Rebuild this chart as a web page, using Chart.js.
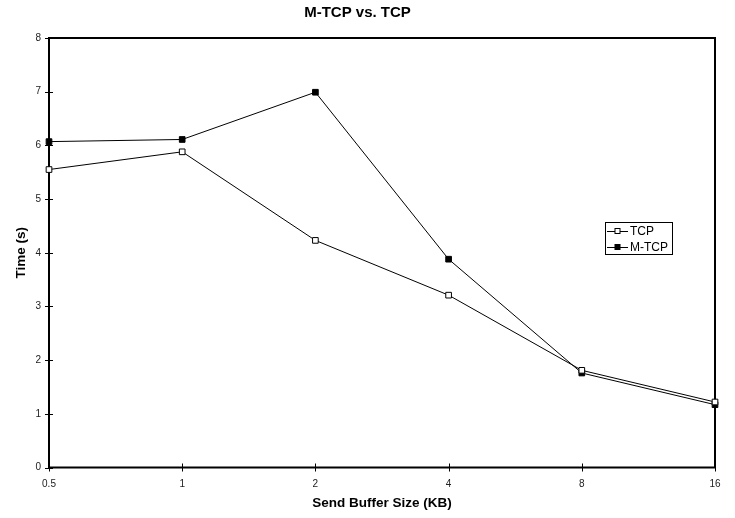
<!DOCTYPE html>
<html>
<head>
<meta charset="utf-8">
<script src="https://cdn.jsdelivr.net/npm/chart.js@4"></script>
<style>
html, body { margin: 0; padding: 0; background: #fff; }
canvas { display: block; }
</style>
</head>
<body>
<canvas id="chart" width="735" height="518"></canvas>
<script>
// Datos
const bufferSizes = ['0.5', '1', '2', '4', '8', '16'];
const tcpTimes = [5.55, 5.88, 4.23, 3.21, 1.81, 1.22];
const mtcpTimes = [6.07, 6.11, 6.99, 3.88, 1.76, 1.17];
const yMin = 0;
const yMax = 8;

const FONT = 'Arial, "Liberation Sans", sans-serif';

// Marco del área del gráfico y marcas de los ejes
const framePlugin = {
    id: 'frame',
    beforeDatasetsDraw(chart) {
        const { ctx, chartArea: a, scales } = chart;
        ctx.save();
        ctx.strokeStyle = '#000';
        ctx.lineWidth = 2;
        ctx.strokeRect(a.left, a.top, a.right - a.left, a.bottom - a.top);
        ctx.lineWidth = 1;
        ctx.beginPath();
        bufferSizes.forEach((_, i) => {
            const px = Math.round(scales.x.getPixelForValue(i)) + 0.5;
            ctx.moveTo(px, a.bottom - 4);
            ctx.lineTo(px, a.bottom + 4);
        });
        scales.y.ticks.forEach(t => {
            const py = Math.round(scales.y.getPixelForValue(t.value)) + 0.5;
            ctx.moveTo(a.left - 4, py);
            ctx.lineTo(a.left + 4, py);
        });
        ctx.stroke();
        ctx.restore();
    },
    // Leyenda con recuadro dentro del área
    afterDraw(chart) {
        const { ctx, chartArea: a } = chart;
        const x0 = a.right - 110;
        const y0 = a.top + 184;
        const w = 67, h = 32;
        ctx.save();
        ctx.fillStyle = '#fff';
        ctx.fillRect(x0, y0, w, h);
        ctx.strokeStyle = '#000';
        ctx.lineWidth = 1;
        ctx.strokeRect(x0 + 0.5, y0 + 0.5, w, h);
        ctx.font = '12px ' + FONT;
        ctx.textBaseline = 'middle';
        chart.data.datasets.forEach((ds, i) => {
            const y = Math.round(y0 + 9 + i * 16) + 0.5;
            ctx.beginPath();
            ctx.moveTo(x0 + 2, y);
            ctx.lineTo(x0 + 23, y);
            ctx.stroke();
            ctx.fillStyle = ds.pointBackgroundColor;
            ctx.fillRect(x0 + 10, y - 3, 5, 5);
            ctx.strokeRect(x0 + 10, y - 3, 5, 5);
            ctx.fillStyle = '#000';
            ctx.fillText(ds.label, x0 + 25, y + 0.5);
        });
        ctx.restore();
    }
};

const ctx = document.getElementById('chart').getContext('2d');
new Chart(ctx, {
    type: 'line',
    data: {
        labels: bufferSizes,
        datasets: [{
            label: 'TCP',
            data: tcpTimes,
            borderColor: '#000',
            borderWidth: 1,
            pointStyle: 'rect',
            pointRadius: 4,
            pointBorderWidth: 1,
            pointBorderColor: '#000',
            pointBackgroundColor: '#fff',
            tension: 0,
            clip: false
        }, {
            label: 'M-TCP',
            data: mtcpTimes,
            borderColor: '#000',
            borderWidth: 1,
            pointStyle: 'rect',
            pointRadius: 4,
            pointBorderWidth: 1,
            pointBorderColor: '#000',
            pointBackgroundColor: '#000',
            tension: 0,
            clip: false
        }]
    },
    options: {
        responsive: false,
        animation: false,
        devicePixelRatio: 1,
        layout: { padding: { left: 0, right: 20, top: 0, bottom: 0 } },
        plugins: {
            legend: { display: false },
            tooltip: { enabled: false },
            title: {
                display: true,
                text: 'M-TCP vs. TCP',
                color: '#000',
                font: { family: FONT, size: 15, weight: 'bold' },
                padding: { top: 4, bottom: 16 }
            }
        },
        scales: {
            x: {
                type: 'category',
                offset: false,
                grid: { display: false, drawTicks: false },
                border: { display: false },
                ticks: {
                    color: '#222',
                    font: { family: FONT, size: 10 },
                    padding: 11,
                    maxRotation: 0,
                    autoSkip: false
                },
                title: {
                    display: true,
                    text: 'Send Buffer Size (KB)',
                    color: '#000',
                    font: { family: FONT, size: 13.5, weight: 'bold' },
                    padding: { top: 0, bottom: 7 }
                },
                afterFit(scale) { scale.height = 50.5; }
            },
            y: {
                min: yMin,
                max: yMax,
                grid: { display: false, drawTicks: false },
                border: { display: false },
                ticks: {
                    stepSize: 1,
                    color: '#222',
                    font: { family: FONT, size: 10 },
                    padding: 8
                },
                title: {
                    display: true,
                    text: 'Time (s)',
                    color: '#000',
                    font: { family: FONT, size: 13.5, weight: 'bold' },
                    padding: { top: 13, bottom: 0 }
                },
                afterFit(scale) { scale.width = 49; }
            }
        }
    },
    plugins: [framePlugin]
});
</script>
</body>
</html>
